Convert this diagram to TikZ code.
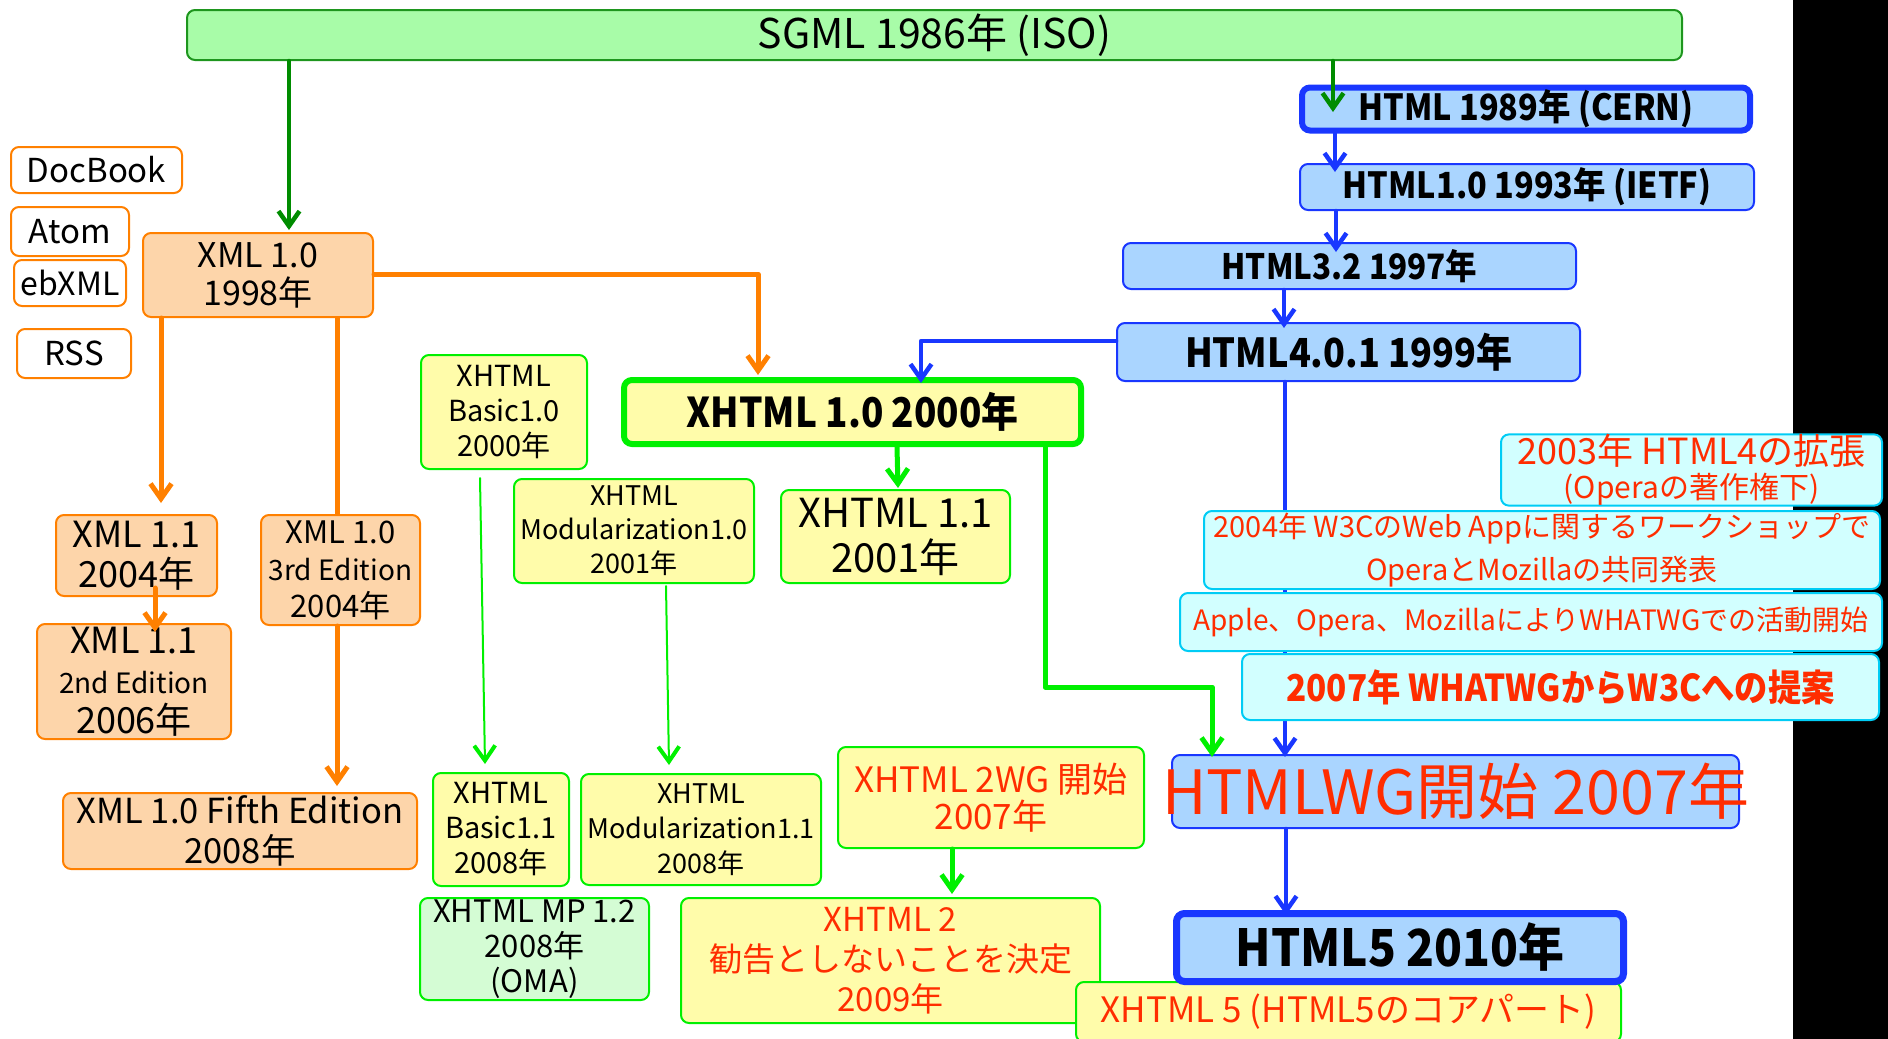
\documentclass[tikz,border=0pt]{standalone}
\usepackage{fontspec}
\setmainfont{Noto Sans CJK JP}
\newfontfamily\condsans{Noto Sans CJK JP}[FakeStretch=0.9]
\usetikzlibrary{arrows.meta}

\definecolor{sgmlfill}{RGB}{168,252,168}
\definecolor{sgmlline}{RGB}{30,150,30}
\definecolor{dkgreen}{RGB}{0,140,0}
\definecolor{blueline}{RGB}{25,55,255}
\definecolor{bluefill}{RGB}{170,213,255}
\definecolor{orangeline}{RGB}{255,128,0}
\definecolor{peach}{RGB}{253,213,170}
\definecolor{brgreen}{RGB}{0,240,0}
\definecolor{paleyellow}{RGB}{255,252,170}
\definecolor{palegreen}{RGB}{212,252,212}
\definecolor{cyanline}{RGB}{0,204,245}
\definecolor{cyanfill}{RGB}{210,255,255}
\definecolor{redtext}{RGB}{255,45,0}

\newcommand\fs[2]{\fontsize{#1pt}{#2pt}\selectfont}
\newcommand\heavy{\condsans\bfseries}

\tikzset{
  box/.style={rounded corners=8pt, inner sep=0pt, align=center, line width=2pt},
  sgmlbox/.style={box, draw=sgmlline, fill=sgmlfill},
  orangebox/.style={box, draw=orangeline, fill=peach},
  whitebox/.style={box, draw=orangeline, fill=white},
  yellowbox/.style={box, draw=brgreen, fill=paleyellow},
  mintbox/.style={box, draw=brgreen, fill=palegreen},
  bluebox/.style={box, draw=blueline, fill=bluefill},
  cyanbox/.style={box, draw=cyanline, fill=cyanfill, text=redtext},
  tip/.style={-{Straight Barb[length=15pt,width=21pt]}, line cap=round, line join=round},
  darrow/.style={tip, draw=dkgreen, line width=4.5pt},
  barrow/.style={tip, draw=blueline, line width=4.5pt},
  oarrow/.style={tip, draw=orangeline, line width=5pt},
  garrow/.style={tip, draw=brgreen, line width=5pt},
  thinarrow/.style={-{Straight Barb[length=15pt,width=21pt,line width=4pt]}, line cap=round, draw=brgreen, line width=2pt},
  oline/.style={draw=orangeline, line width=5pt},
}

\begin{document}
\begin{tikzpicture}[x=1pt,y=-1pt]
\useasboundingbox (0,0) rectangle (1888,1039);
% dark strip on the right edge
\fill[black] (1793,0) rectangle (1888,1039);

% ---- SGML and the HTML line ----
\node[sgmlbox, minimum width=1495pt, minimum height=50pt, font=\fs{41}{48}] (sgml) at (934.5,35) {SGML 1986年 (ISO)};
\node[bluebox, line width=6pt, minimum width=448pt, minimum height=43pt, font=\heavy\fs{36}{44}] (html89) at (1526,109) {HTML 1989年 (CERN)};
\node[bluebox, minimum width=454pt, minimum height=46pt, font=\heavy\fs{36}{44}] (html10) at (1527,187) {HTML1.0 1993年 (IETF)};
\node[bluebox, minimum width=453pt, minimum height=46pt, font=\heavy\fs{35}{42}] (html32) at (1349.5,266) {HTML3.2 1997年};
\node[bluebox, minimum width=463pt, minimum height=58pt, font=\heavy\fs{40}{48}] (html401) at (1348.5,352) {HTML4.0.1 1999年};

% ---- XML family ----
\node[orangebox, minimum width=230pt, minimum height=84pt, font=\fs{34}{38}] (xml10) at (258,275) {XML 1.0\\1998年};
\node[whitebox, minimum width=171pt, minimum height=46pt, font=\fs{33}{36}] (docbook) at (96.5,170) {DocBook};
\node[whitebox, minimum width=118pt, minimum height=49pt, font=\fs{33}{36}] (atom) at (70,231.5) {Atom};
\node[whitebox, minimum width=112pt, minimum height=46pt, font=\fs{32}{36}] (ebxml) at (70,283) {ebXML};
\node[whitebox, minimum width=114pt, minimum height=49pt, font=\fs{33}{36}] (rss) at (74,353.5) {RSS};
\node[orangebox, minimum width=161pt, minimum height=81pt, font=\fs{36}{40}] (xml11) at (136.5,555.5) {XML 1.1\\2004年};
\node[orangebox, minimum width=194pt, minimum height=115pt, font=\fs{36}{40}] (xml11se) at (134,681.5) {XML 1.1\\{\fs{28}{40}2nd Edition}\\2006年};
\node[orangebox, minimum width=159pt, minimum height=110pt, font=\fs{28}{37}] (xml10te) at (340.5,570) {{\fs{31}{37}XML 1.0}\\3rd Edition\\{\fs{31}{40}2004年}};
\node[orangebox, minimum width=354pt, minimum height=76pt, font=\fs{34.5}{40}] (xml10fe) at (240,831) {XML 1.0 Fifth Edition\\2008年};

% ---- XHTML family ----
\node[yellowbox, minimum width=166pt, minimum height=114pt, font=\fs{29}{35}] (basic10) at (504,412) {XHTML\\Basic1.0\\2000年};
\node[yellowbox, line width=6pt, minimum width=457pt, minimum height=64pt, font=\heavy\fs{41}{48}] (xhtml10) at (852.5,412) {XHTML 1.0 2000年};
\node[yellowbox, minimum width=240pt, minimum height=104pt, font=\fs{27}{34}] (mod10) at (634,531) {XHTML\\Modularization1.0\\2001年};
\node[yellowbox, minimum width=229pt, minimum height=93pt, font=\fs{40}{45}] (xhtml11) at (895.5,536.5) {XHTML 1.1\\2001年};
\node[yellowbox, minimum width=136pt, minimum height=113pt, font=\fs{29}{35}] (basic11) at (501,829.5) {XHTML\\Basic1.1\\2008年};
\node[yellowbox, minimum width=240pt, minimum height=111pt, font=\fs{27}{35}] (mod11) at (701,829.5) {XHTML\\Modularization1.1\\2008年};
\node[mintbox, minimum width=229pt, minimum height=102pt, font=\fs{31}{35}] (mp12) at (534.5,949) {XHTML MP 1.2\\2008年\\(OMA)};
\node[yellowbox, text=redtext, minimum width=306pt, minimum height=101pt, font=\fs{35}{37}] (wg2) at (991,797.5) {XHTML 2WG 開始\\2007年};
\node[yellowbox, text=redtext, minimum width=419pt, minimum height=125pt, font=\fs{33}{40}] (xhtml2) at (890.5,960.5) {XHTML 2\\勧告としないことを決定\\2009年};

% ---- HTML working group ----
\node[bluebox, minimum width=567pt, minimum height=73pt] (htmlwg) at (1455.5,791.5) {};
\node[text=redtext, inner sep=0pt, font=\fs{61}{70}] at (htmlwg.center) {HTMLWG開始 2007年};

% line from HTML4.0.1 down to the working group, passing behind the notes
\coordinate (t7) at (1285,757);
\draw[barrow] (html401.south -| t7) -- (t7);

% ---- notes on the WHATWG history ----
\node[cyanbox, minimum width=381pt, minimum height=70pt, font=\fs{36}{36}] (n2003) at (1691.5,470) {2003年 HTML4の拡張\\[-2pt]{\fs{30}{34}(Operaの著作権下)}};
\node[cyanbox, minimum width=676pt, minimum height=78pt, font=\fs{29}{43}] (n2004) at (1542,550) {2004年 W3CのWeb Appに関するワークショップで\\OperaとMozillaの共同発表};
\node[cyanbox, minimum width=702pt, minimum height=58pt, font=\fs{28}{36}] (nwhatwg) at (1531,622) {Apple、Opera、MozillaによりWHATWGでの活動開始};
\node[cyanbox, minimum width=637pt, minimum height=66pt, font=\heavy\fs{37}{40}] (n2007) at (1560.5,687) {2007年 WHATWGからW3Cへの提案};

% ---- XHTML 5 and HTML5 ----
\node[yellowbox, text=redtext, minimum width=545pt, minimum height=60pt, font=\fs{35}{38}] (xhtml5) at (1348.5,1012) {XHTML 5 (HTML5のコアパート)};
\node[bluebox, line width=7pt, minimum width=447pt, minimum height=68pt, font=\heavy\fs{51}{60}] (html5) at (1400,947.5) {HTML5 2010年};

% ---- connectors ----
\coordinate (t1) at (289,230);
\coordinate (t2) at (1333,112);
\coordinate (t3) at (1335,172);
\coordinate (t4) at (1336,252);
\coordinate (t5) at (1284,328);
\coordinate (k6) at (1000,341);
\coordinate (t6) at (921,383);
\coordinate (t8) at (1286,915);
\coordinate (k9) at (500,274);
\coordinate (t9) at (758,375);
\coordinate (t10) at (161,503);
\coordinate (t11) at (337,0);
\coordinate (t12) at (337,786);
\coordinate (t13) at (155,632);
\coordinate (t14) at (485,764);
\coordinate (t15) at (669,765);
\coordinate (t16) at (898,488);
\coordinate (g17) at (1045,687);
\coordinate (t17) at (1212,757);
\coordinate (t18) at (952,894);

\draw[darrow] (sgml.south -| t1) -- (t1);
\draw[darrow] (sgml.south -| t2) -- (t2);
\draw[barrow] (html89.south -| t3) -- (t3);
\draw[barrow] (html10.south -| t4) -- (t4);
\draw[barrow] (html32.south -| t5) -- (t5);
\draw[barrow] (html401.west |- k6) -| (t6);
\draw[barrow] (htmlwg.south -| t8) -- (t8);

\draw[oarrow] (xml10.east |- k9) -| (t9);
\draw[oarrow] (xml10.south -| t10) -- (t10);
\draw[oline] (xml10.south -| t11) -- (xml10te.north -| t11);
\draw[oarrow] (xml10te.south -| t12) -- (t12);
\draw[oarrow] ([yshift=9pt]xml11.south -| t13) -- (t13);

\draw[thinarrow] ([xshift=-24pt,yshift=-8pt]basic10.south) -- (t14);
\draw[thinarrow] ([xshift=32pt,yshift=-2pt]mod10.south) -- (t15);
\draw[garrow] ([xshift=44.5pt]xhtml10.south) -- (t16);
\draw[garrow] (xhtml10.south -| g17) -- (g17) -| (t17);
\draw[garrow] (wg2.south -| t18) -- (t18);
\end{tikzpicture}
\end{document}
